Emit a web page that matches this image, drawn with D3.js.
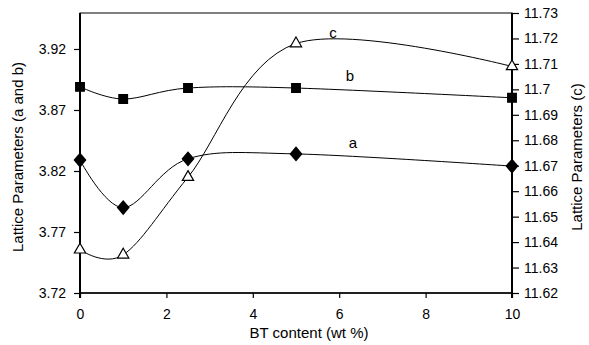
<!DOCTYPE html>
<meta charset='utf-8'>
<html>
  <head>
    <script src="https://d3js.org/d3.v7.min.js"></script>
    <style>
      body { margin: 0; background: #fff; }
      text { font-family: "Liberation Sans", Arial, sans-serif; fill: #000; }
    </style>
  </head>
  <body>
    <div id="chart"></div>
    <script>
        // data
        var btContent = [0, 1, 2.5, 5, 10]
        var latticeA = [3.829, 3.790, 3.830, 3.834, 3.824]
        var latticeB = [3.889, 3.879, 3.888, 3.888, 3.880]
        var latticeC = [11.637, 11.635, 11.6655, 11.718, 11.709]
        var xTicks = [0, 2, 4, 6, 8, 10]
        var leftTicks = [3.72, 3.77, 3.82, 3.87, 3.92]
        var rightTicks = [11.62, 11.63, 11.64, 11.65, 11.66, 11.67, 11.68, 11.69, 11.70, 11.71, 11.72, 11.73]

        var margin = { top: 13, right: 77, bottom: 52, left: 80 }
        var w = 589 - margin.left - margin.right
        var h = 345 - margin.top - margin.bottom

        var svg = d3.select('#chart').append('svg')
            .attr('width', 589)
            .attr('height', 345)
        var g = svg.append('g')
            .attr('transform', 'translate(' + margin.left + ',' + margin.top + ')')

        // Scales
        var xScale = d3.scaleLinear().domain([0, 10]).range([0, w])
        var yLeft = d3.scaleLinear().domain([3.72, 3.9495]).range([h, 0])
        var yRight = d3.scaleLinear().domain([11.62, 11.73]).range([h, 0])

        // frame
        g.append('rect')
            .attr('width', w).attr('height', h)
            .attr('fill', 'none').attr('stroke', '#000').attr('stroke-width', 1)

        // axes
        var xAxis = d3.axisBottom(xScale).tickValues(xTicks).tickSize(5).tickPadding(11)
        var lAxis = d3.axisLeft(yLeft).tickValues(leftTicks).tickSize(6).tickPadding(8)
            .tickFormat(d3.format('.2f'))
        var rAxis = d3.axisRight(yRight).tickValues(rightTicks).tickSize(7).tickPadding(5)
            .tickFormat(function (d) { return String(+d.toFixed(2)) })

        var gx = g.append('g').attr('transform', 'translate(0,' + h + ')').call(xAxis)
        var gl = g.append('g').call(lAxis)
        var gr = g.append('g').attr('transform', 'translate(' + w + ',0)').call(rAxis)

        ;[gx, gl, gr].forEach(function (a) {
            a.selectAll('text').style('font-size', '14px').style('font-family', '"Liberation Sans", Arial, sans-serif')
            a.selectAll('line').attr('stroke', '#000').attr('stroke-width', 1.2)
            a.attr('font-size', null).attr('font-family', null)
        })
        gx.select('.domain').attr('d', 'M0,0H' + w).attr('stroke', '#000').attr('stroke-width', 1.5)
        gl.select('.domain').attr('d', 'M0,0V' + (h + 5)).attr('stroke', '#000').attr('stroke-width', 2)
        gr.select('.domain').attr('d', 'M0,0V' + (h + 5)).attr('stroke', '#000').attr('stroke-width', 2)

        // axis titles
        g.append('text')
            .attr('x', 229).attr('y', h + 45)
            .attr('text-anchor', 'middle')
            .style('font-size', '15px')
            .text('BT content (wt %)')
        svg.append('text')
            .attr('transform', 'translate(23,157) rotate(-90)')
            .attr('text-anchor', 'middle')
            .style('font-size', '15px')
            .text('Lattice Parameters (a and b)')
        svg.append('text')
            .attr('transform', 'translate(582,157) rotate(-90)')
            .attr('text-anchor', 'middle')
            .style('font-size', '15px')
            .text('Lattice Parameters (c)')

        // series
        var series = [
            { name: 'a', vals: latticeA, y: yLeft, marker: d3.symbolDiamond, size: 70, fill: '#000' },
            { name: 'b', vals: latticeB, y: yLeft, marker: d3.symbolSquare, size: 75, fill: '#000' },
            { name: 'c', vals: latticeC, y: yRight, marker: d3.symbolTriangle, size: 55, fill: '#fff' }
        ]

        series.forEach(function (s) {
            var pts = btContent.map(function (x, i) { return [xScale(x), s.y(s.vals[i])] })
            var line = d3.line().curve(d3.curveCardinal.tension(0))
            g.append('path')
                .attr('d', line(pts))
                .attr('fill', 'none')
                .attr('stroke', '#000')
                .attr('stroke-width', 1)
            g.selectAll('.m' + s.name)
                .data(pts)
                .enter()
                .append('path')
                .attr('transform', function (d) { return 'translate(' + d[0] + ',' + d[1] + ')' + (s.name === 'a' ? ' scale(1.25,0.85)' : '') })
                .attr('d', d3.symbol().type(s.marker).size(s.size))
                .attr('fill', s.fill)
                .attr('stroke', '#000')
                .attr('stroke-width', 1.2)
        })

        // series labels
        var labels = [['c', 333, 38], ['b', 350, 81], ['a', 353, 148]]
        labels.forEach(function (l) {
            svg.append('text')
                .attr('x', l[1]).attr('y', l[2])
                .attr('text-anchor', 'middle')
                .style('font-size', '15px')
                .text(l[0])
        })
    </script>
  </body>
</html>
